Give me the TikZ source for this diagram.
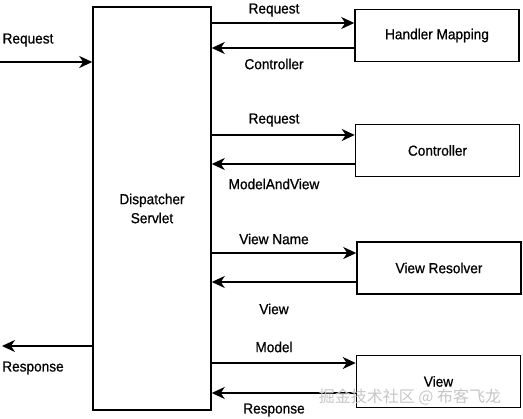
\documentclass[tikz,border=0pt]{standalone}
\usepackage{fontspec}
\setmainfont{Liberation Sans}[FakeBold=0.7,FakeStretch=0.94]
\newfontfamily\cjk{Noto Sans CJK SC}
\usetikzlibrary{arrows.meta}
\tikzset{
	unit/.style={draw,line width=1.5pt,minimum width=164pt,minimum height=52pt,font=\fontsize{14.5}{17}\selectfont},
	flow/.style={line width=1.4pt,-{Stealth[length=13pt,width=12pt,inset=4pt]}},
	tag/.style={font=\fontsize{14.5}{17}\selectfont,inner sep=0pt}
}
\begin{document}
\begin{tikzpicture}[x=1pt,y=-1pt]
	\useasboundingbox (0,0) rectangle (523,419);
	
	% dispatcher and helpers
	\node[draw,line width=1.5pt,minimum width=118pt,minimum height=403pt,align=center,font=\fontsize{14.5}{19}\selectfont] (ds) at (152,208.5) {Dispatcher\\Servlet};
	\node[unit] (hm) at (437,35.5) {Handler Mapping};
	\node[unit] (ctl) at (437.5,150.5) {Controller};
	\node[unit] (vr) at (439,268) {View Resolver};
	\node[unit] (vw) at (438.5,381.5) {View};
	
	% client side
	\coordinate (in) at (0,62);
	\coordinate (out) at (2,346);
	\draw[flow] (in) -- (ds.west |- in);
	\draw[flow] (ds.west |- out) -- (out);
	\node[tag] (rq) at (28,40) {Request};
	\node[tag] (rs) at (33,368) {Response};
	
	% calls and returns
	\foreach \unitnode/\ya/\yb in {hm/23/48,ctl/135/164,vr/253/282,vw/363/393}
	{
		\draw[flow] (ds.east |- 0,\ya) -- (\unitnode.west |- 0,\ya);
		\draw[flow] (\unitnode.west |- 0,\yb) -- (ds.east |- 0,\yb);
	}
	\node[tag] (l1) at (274,10) {Request};
	\node[tag] (l2) at (274,64) {Controller};
	\node[tag] (l3) at (274,120) {Request};
	\node[tag] (l4) at (274,184) {ModelAndView};
	\node[tag] (l5) at (274,239) {View Name};
	\node[tag] (l6) at (274,309) {View};
	\node[tag] (l7) at (274,347) {Model};
	\node[tag] (l8) at (274,410) {Response};
	
	%\draw (0,0) grid (523,419);
	\node[font=\cjk\fontsize{16}{18}\selectfont,text=gray!45,inner sep=0pt] (wm) at (410,397) {掘金技术社区 @ 布客飞龙};
\end{tikzpicture}
\end{document}
